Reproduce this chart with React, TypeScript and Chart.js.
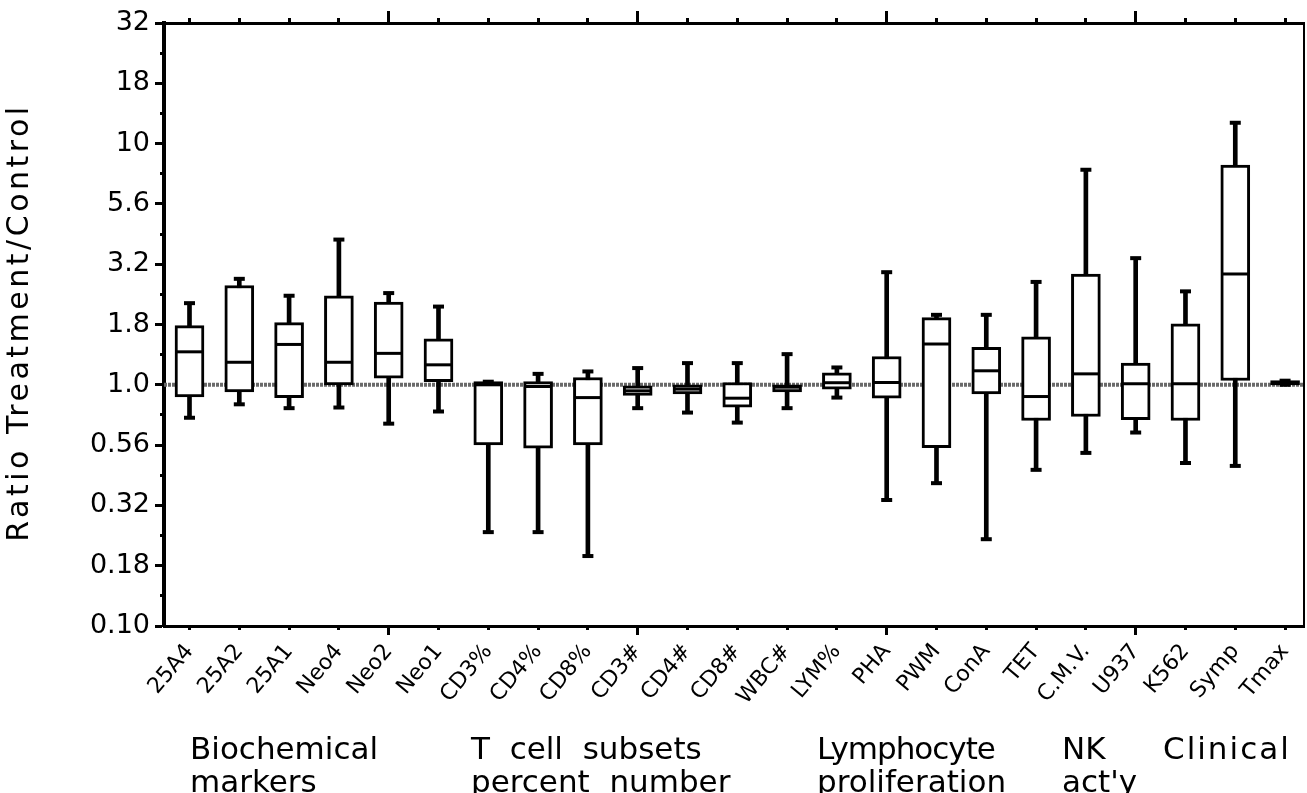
import React, { useEffect, useRef } from "react";
import { Chart, registerables } from "chart.js";

Chart.register(...registerables);

const CATEGORIES = [
  "25A4", "25A2", "25A1", "Neo4", "Neo2", "Neo1", "CD3%", "CD4%", "CD8%",
  "CD3#", "CD4#", "CD8#", "WBC#", "LYM%", "PHA", "PWM", "ConA", "TET",
  "C.M.V.", "U937", "K562", "Symp", "Tmax",
];

const WHISKER_LOW = [0.73, 0.83, 0.8, 0.805, 0.69, 0.775, 0.245, 0.245, 0.195, 0.8, 0.767, 0.697, 0.8, 0.885, 0.333, 0.391, 0.229, 0.444, 0.522, 0.634, 0.474, 0.461, 1.0];
const BOX_LOW = [0.89, 0.935, 0.885, 1.0, 1.066, 1.03, 0.563, 0.546, 0.563, 0.903, 0.917, 0.808, 0.935, 0.96, 0.88, 0.549, 0.917, 0.711, 0.739, 0.716, 0.711, 1.042, 1.0];
const MEDIAN = [1.37, 1.24, 1.47, 1.24, 1.35, 1.21, 1.0, 0.984, 0.885, 0.944, 0.96, 0.88, 0.978, 1.02, 1.022, 1.476, 1.143, 0.894, 1.11, 1.01, 1.01, 2.88, 1.02];
const BOX_HIGH = [1.76, 2.58, 1.81, 2.34, 2.2, 1.55, 1.03, 1.03, 1.072, 0.99, 1.0, 1.022, 1.0, 1.12, 1.31, 1.9, 1.43, 1.58, 2.88, 1.23, 1.79, 8.14, 1.04];
const WHISKER_HIGH = [2.18, 2.75, 2.34, 4.0, 2.4, 2.11, 1.03, 1.11, 1.136, 1.173, 1.23, 1.23, 1.34, 1.18, 2.93, 1.95, 1.95, 2.67, 7.79, 3.35, 2.44, 12.2, 1.04];

const Y_TICK_VALUES = [0.1, 0.1778, 0.3162, 0.5623, 1, 1.778, 3.162, 5.623, 10, 17.78, 31.62];
const Y_TICK_LABELS = ["0.10", "0.18", "0.32", "0.56", "1.0", "1.8", "3.2", "5.6", "10", "18", "32"];
const Y_MINOR_TICKS = [0.1334, 0.2371, 0.4217, 0.7499, 1.334, 2.371, 4.217, 7.499, 13.34, 23.71];
const Y_MIN = 0.1;
const Y_MAX = 31.62;
const X_MIN = 0.488;
const X_MAX = 23.38;
const REFERENCE_LEVEL = 1.0;
const Y_TITLE = "Ratio Treatment/Control";

const GROUP_LABELS = [
  { text: "Biochemical", x: 190, y: 759, spacing: 0 },
  { text: "markers", x: 190, y: 792, spacing: 0 },
  { text: "T  cell  subsets", x: 471, y: 759, spacing: 0 },
  { text: "percent  number", x: 471, y: 792, spacing: 0 },
  { text: "Lymphocyte", x: 817, y: 759, spacing: -1 },
  { text: "proliferation", x: 817, y: 792, spacing: 0 },
  { text: "NK", x: 1062, y: 759, spacing: 0 },
  { text: "act'y", x: 1062, y: 792, spacing: 0 },
  { text: "Clinical", x: 1163, y: 759, spacing: 2 },
];

const FONT = '"DejaVu Sans", "Noto Sans", sans-serif';

export default function App() {
  const ref = useRef<HTMLCanvasElement | null>(null);

  useEffect(() => {
    const canvas = ref.current;
    if (!canvas) return;
    const xs = CATEGORIES.map((_, i) => i + 1);
    const catTicks = (s: any) => {
      s.ticks = xs.map((v) => ({ value: v }));
    };
    const isMajor = (ctx: any) => ctx.index % 5 === 4;
    const noPad = (s: any) => {
      s.paddingLeft = 0;
      s.paddingRight = 0;
    };

    const textPlugin = {
      id: "textPlugin",
      afterDraw(chart: any) {
        const c = chart.ctx;
        const area = chart.chartArea;
        c.save();
        c.fillStyle = "#000";
        c.font = `31px ${FONT}`;
        c.textAlign = "left";
        c.textBaseline = "alphabetic";
        GROUP_LABELS.forEach((g) => {
          (c as any).letterSpacing = `${g.spacing}px`;
          c.fillText(g.text, g.x, g.y);
        });
        c.restore();

        c.save();
        c.fillStyle = "#000";
        c.font = `30px ${FONT}`;
        (c as any).letterSpacing = "3.5px";
        c.textAlign = "center";
        c.textBaseline = "middle";
        c.translate(20, (area.top + area.bottom) / 2 - 2);
        c.rotate(-Math.PI / 2);
        c.fillText(Y_TITLE, 0, 0);
        c.restore();
      },
    };

    const chart = new Chart(canvas, {
      type: "bar",
      data: {
        datasets: [
          {
            type: "line",
            data: [
              { x: X_MIN, y: REFERENCE_LEVEL },
              { x: X_MAX, y: REFERENCE_LEVEL },
            ],
            borderColor: "#6a6a6a",
            borderWidth: 4,
            borderDash: [3, 1],
            pointRadius: 0,
            order: 4,
          } as any,
          {
            type: "bar",
            data: xs.map((x, i) => ({ x, y: [WHISKER_LOW[i], WHISKER_HIGH[i]] })),
            backgroundColor: "#000",
            borderWidth: 0,
            barThickness: 4,
            grouped: false,
            order: 3,
          } as any,
          {
            type: "bar",
            data: xs.map((x, i) => ({ x, y: [BOX_LOW[i], BOX_HIGH[i]] })),
            backgroundColor: "#fff",
            borderColor: "#000",
            borderWidth: 3,
            borderSkipped: false,
            barThickness: 29,
            grouped: false,
            order: 2,
          } as any,
          {
            type: "scatter",
            data: xs.map((x, i) => ({ x, y: MEDIAN[i] })),
            pointStyle: "line",
            pointRadius: 13,
            pointBorderWidth: 3,
            pointBorderColor: "#000",
            order: 1,
          } as any,
          {
            type: "scatter",
            data: [
              ...xs.map((x, i) => ({ x, y: WHISKER_LOW[i] })),
              ...xs.map((x, i) => ({ x, y: WHISKER_HIGH[i] })),
            ],
            pointStyle: "line",
            pointRadius: 5.5,
            pointBorderWidth: 4,
            pointBorderColor: "#000",
            order: 0,
          } as any,
        ],
      },
      options: {
        animation: false,
        responsive: false,
        maintainAspectRatio: false,
        layout: { padding: 0, autoPadding: false },
        plugins: { legend: { display: false }, tooltip: { enabled: false } },
        scales: {
          x: {
            type: "linear",
            position: "bottom",
            offset: false,
            min: X_MIN,
            max: X_MAX,
            weight: 0,
            afterBuildTicks: catTicks,
            ticks: { display: false },
            grid: { offset: false, drawOnChartArea: false, tickLength: 4, tickWidth: 3, tickColor: "#000" },
            border: { display: true, width: 3, color: "#000" },
            afterFit: (s: any) => { s.height = 4; noPad(s); },
          },
          xLabels: {
            type: "linear",
            position: "bottom",
            offset: false,
            min: X_MIN,
            max: X_MAX,
            weight: 1,
            afterBuildTicks: catTicks,
            ticks: {
              autoSkip: false,
              minRotation: 50,
              maxRotation: 50,
              padding: 4,
              color: "#000",
              font: { family: FONT, size: 22 },
              callback: (_v: any, i: number) => CATEGORIES[i],
            },
            grid: {
              offset: false,
              drawOnChartArea: false,
              tickLength: 5,
              tickWidth: 3,
              tickColor: (ctx: any) => (isMajor(ctx) ? "#000" : "rgba(0,0,0,0)"),
            },
            border: { display: false },
            afterFit: (s: any) => { s.height = 163; noPad(s); },
          },
          xTop: {
            type: "linear",
            position: "top",
            offset: false,
            min: X_MIN,
            max: X_MAX,
            weight: 0,
            afterBuildTicks: catTicks,
            ticks: { display: false },
            grid: { offset: false, drawOnChartArea: false, tickLength: 5, tickWidth: 3, tickColor: "#000" },
            border: { display: true, width: 3, color: "#000" },
            afterFit: (s: any) => { s.height = 5; noPad(s); },
          },
          xTop2: {
            type: "linear",
            position: "top",
            offset: false,
            min: X_MIN,
            max: X_MAX,
            weight: 1,
            afterBuildTicks: catTicks,
            ticks: { display: false },
            grid: {
              offset: false,
              drawOnChartArea: false,
              tickLength: 7,
              tickWidth: 3,
              tickColor: (ctx: any) => (isMajor(ctx) ? "#000" : "rgba(0,0,0,0)"),
            },
            border: { display: false },
            afterFit: (s: any) => { s.height = 18; noPad(s); },
          },
          y: {
            type: "logarithmic",
            position: "left",
            min: Y_MIN,
            max: Y_MAX,
            weight: 0,
            afterBuildTicks: (s: any) => {
              s.ticks = [...Y_TICK_VALUES, ...Y_MINOR_TICKS]
                .sort((a, b) => a - b)
                .map((v) => ({ value: v }));
            },
            ticks: { display: false },
            grid: { drawOnChartArea: false, tickLength: 4, tickWidth: 3, tickColor: "#000" },
            border: { display: true, width: 4, color: "#000" },
            afterFit: (s: any) => { s.width = 4; },
          },
          y2: {
            type: "logarithmic",
            position: "left",
            min: Y_MIN,
            max: Y_MAX,
            weight: 1,
            afterBuildTicks: (s: any) => {
              s.ticks = Y_TICK_VALUES.map((v) => ({ value: v }));
            },
            ticks: {
              padding: 5,
              color: "#000",
              font: { family: FONT, size: 27 },
              callback: (_v: any, i: number) => Y_TICK_LABELS[i],
            },
            grid: { drawOnChartArea: false, tickLength: 5, tickWidth: 3, tickColor: "#000" },
            border: { display: false },
            afterFit: (s: any) => { s.width = 160; },
          },
          yRight: {
            type: "logarithmic",
            position: "right",
            min: Y_MIN,
            max: Y_MAX,
            afterBuildTicks: (s: any) => { s.ticks = []; },
            ticks: { display: false },
            grid: { drawOnChartArea: false, drawTicks: false },
            border: { display: true, width: 2, color: "#000" },
            afterFit: (s: any) => { s.width = 3; },
          },
        },
      } as any,
      plugins: [textPlugin],
    });
    return () => chart.destroy();
  }, []);

  return (
    <div style={{ position: "fixed", left: 0, top: 0, width: 1307, height: 793, background: "#fff" }}>
      <canvas ref={ref} width={1307} height={793} style={{ display: "block", width: 1307, height: 793 }} />
    </div>
  );
}
